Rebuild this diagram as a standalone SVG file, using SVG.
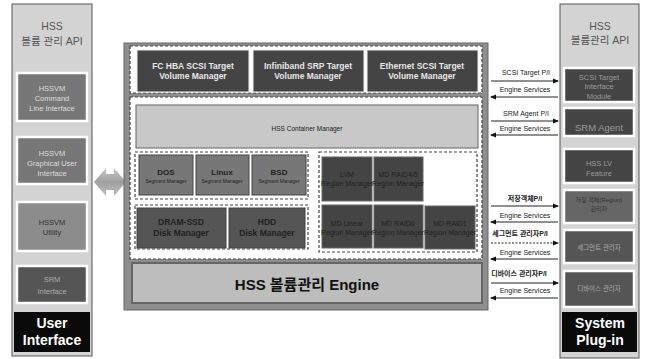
<svg xmlns="http://www.w3.org/2000/svg" width="649" height="359" viewBox="0 0 649 359">
<style>
text{font-family:"Liberation Sans","Noto Sans CJK KR",sans-serif;text-anchor:middle;dominant-baseline:central}
.panel{fill:#d3d3d3;stroke:#555;stroke-width:1}
.wb{stroke:#fff;stroke-width:2.5}
.lt{font-size:7.5px;fill:#ddd}
.pt{font-size:7.5px;fill:#999}
.hdr{font-size:10.5px;fill:#555}
.big{font-size:14px;font-weight:bold;fill:#fff}
.dash{fill:#fff;stroke:#444;stroke-width:1.2;stroke-dasharray:3 2}
.tv{fill:#444;stroke:#eee;stroke-width:1}
.tvt{font-size:8.5px;font-weight:bold;fill:#e6e6e6}
.seg{fill:#777;stroke:#444;stroke-width:1}
.segt{font-size:8px;font-weight:bold;fill:#222}
.segs{font-size:5px;fill:#222}
.rg{fill:#444;stroke:#666;stroke-width:1}
.rgt{font-size:7px;fill:#222}
.al{font-size:7px;fill:#222}
.ak{font-size:7px;font-weight:bold;fill:#222}
.arr{stroke:#222;stroke-width:1;fill:none}
</style>
<defs>
<marker id="ah" markerWidth="6" markerHeight="6" refX="5" refY="3" orient="auto" markerUnits="userSpaceOnUse">
<path d="M0,0.5 L6,3 L0,5.5 Z" fill="#111"/>
</marker>
<linearGradient id="dg" x1="0" y1="0" x2="0" y2="1">
<stop offset="0" stop-color="#c8c8c8"/><stop offset="0.5" stop-color="#a0a0a0"/><stop offset="1" stop-color="#c0c0c0"/>
</linearGradient>
</defs>
<rect width="649" height="359" fill="#fff"/>

<!-- Left panel -->
<g id="left-panel">
<rect class="panel" x="12" y="4" width="80" height="352"/>
<text class="hdr" x="52" y="26">HSS</text>
<text class="hdr" x="52" y="41">볼륨 관리 API</text>
</g>
<g id="cli">
<rect class="wb" x="17" y="73" width="70" height="48" fill="#777"/>
<text class="lt" x="52" y="88">HSSVM</text>
<text class="lt" x="52" y="98">Command</text>
<text class="lt" x="52" y="108">Line Interface</text>
</g>
<g id="gui">
<rect class="wb" x="17" y="137" width="70" height="47" fill="#777"/>
<text class="lt" x="52" y="153">HSSVM</text>
<text class="lt" x="52" y="163">Graphical User</text>
<text class="lt" x="52" y="173">Interface</text>
</g>
<g id="utility">
<rect class="wb" x="17" y="202" width="70" height="49" fill="#8c8c8c"/>
<text class="lt" x="52" y="222" style="fill:#333">HSSVM</text>
<text class="lt" x="52" y="232" style="fill:#333">Utility</text>
</g>
<g id="srm-if">
<rect class="wb" x="17" y="266" width="70" height="37" fill="#555"/>
<text class="lt" x="52" y="279" style="fill:#aaa">SRM</text>
<text class="lt" x="52" y="291" style="fill:#aaa">Interface</text>
</g>
<g id="user-interface">
<rect x="14" y="312" width="76" height="40" fill="#0a0a0a"/>
<text class="big" x="52" y="323">User</text>
<text class="big" x="52" y="340">Interface</text>
</g>

<!-- double arrow -->
<g id="ui-link">
<path d="M94,182 L106,168 L106,174 L114,174 L114,168 L126,182 L114,196 L114,190 L106,190 L106,196 Z" fill="url(#dg)"/>
</g>

<!-- Center frame -->
<g id="engine-frame">
<rect x="124" y="43" width="364" height="267" fill="#8e8e8e" stroke="#666" stroke-width="1"/>
<rect class="dash" x="130" y="46" width="352" height="47"/>
<rect class="dash" x="130" y="97" width="352" height="162"/>
</g>
<g id="fc-hba">
<rect class="tv" x="137" y="50" width="112" height="42"/>
<text class="tvt" x="193" y="66">FC HBA  SCSI Target</text>
<text class="tvt" x="193" y="76">Volume Manager</text>
</g>
<g id="infiniband">
<rect class="tv" x="253" y="50" width="111" height="42"/>
<text class="tvt" x="308" y="66">Infiniband  SRP Target</text>
<text class="tvt" x="308" y="76">Volume Manager</text>
</g>
<g id="ethernet">
<rect class="tv" x="367" y="50" width="111" height="42"/>
<text class="tvt" x="422" y="66">Ethernet SCSI Target</text>
<text class="tvt" x="422" y="76">Volume Manager</text>
</g>
<g id="container-manager">
<rect x="136" y="105" width="342" height="43" fill="#c8c8c8" stroke="#777" stroke-width="1.2"/>
<text x="307" y="128" style="font-size:6.5px;fill:#222">HSS Container Manager</text>
</g>
<g id="segment-group">
<rect class="dash" x="135" y="152" width="173" height="47"/>
</g>
<g id="dos">
<rect class="seg" x="139" y="155" width="54" height="40"/>
<text class="segt" x="166" y="172">DOS</text>
<text class="segs" x="166" y="181">Segment Manager</text>
</g>
<g id="linux">
<rect class="seg" x="196" y="155" width="53" height="40"/>
<text class="segt" x="222" y="172">Linux</text>
<text class="segs" x="222" y="181">Segment Manager</text>
</g>
<g id="bsd">
<rect class="seg" x="252" y="155" width="54" height="40"/>
<text class="segt" x="279" y="172">BSD</text>
<text class="segs" x="279" y="181">Segment Manager</text>
</g>
<g id="disk-group">
<rect class="dash" x="135" y="205" width="173" height="44"/>
</g>
<g id="dram-ssd">
<rect x="137" y="208" width="89" height="40" fill="#555" stroke="#444"/>
<text class="segt" x="181" y="222" style="font-size:8.5px">DRAM-SSD</text>
<text class="segt" x="181" y="233" style="font-size:8.5px">Disk Manager</text>
</g>
<g id="hdd">
<rect x="229" y="208" width="76" height="40" fill="#555" stroke="#444"/>
<text class="segt" x="267" y="222" style="font-size:8.5px">HDD</text>
<text class="segt" x="267" y="233" style="font-size:8.5px">Disk Manager</text>
</g>
<g id="region-group">
<rect class="dash" x="319" y="152" width="158" height="100"/>
</g>
<g id="lvm">
<rect class="rg" x="322" y="157" width="50" height="44"/>
<text class="rgt" x="347" y="174">LVM</text>
<text class="rgt" x="347" y="183">Region Manager</text>
</g>
<g id="raid45">
<rect class="rg" x="374" y="157" width="49" height="44"/>
<text class="rgt" x="398" y="174">MD RAID4/5</text>
<text class="rgt" x="398" y="183">Region Manager</text>
</g>
<g id="md-linear">
<rect class="rg" x="322" y="205" width="50" height="43"/>
<text class="rgt" x="347" y="223">MD Linear</text>
<text class="rgt" x="347" y="232">Region Manager</text>
</g>
<g id="raid0">
<rect class="rg" x="374" y="205" width="49" height="43"/>
<text class="rgt" x="398" y="223">MD RAID0</text>
<text class="rgt" x="398" y="232">Region Manager</text>
</g>
<g id="raid1">
<rect class="rg" x="425" y="206" width="50" height="43"/>
<text class="rgt" x="450" y="223">MD RAID1</text>
<text class="rgt" x="450" y="232">Region Manager</text>
</g>
<g id="engine">
<rect x="132" y="263" width="350" height="40" fill="#bdbdbd" stroke="#666" stroke-width="2"/>
<text x="307" y="284" style="font-size:15px;font-weight:bold;fill:#111">HSS 볼륨관리 Engine</text>
</g>

<!-- Right panel -->
<g id="right-panel">
<rect class="panel" x="560" y="4" width="79" height="354"/>
<text class="hdr" x="600" y="26">HSS</text>
<text class="hdr" x="600" y="40">볼륨관리 API</text>
</g>
<g id="scsi-module">
<rect class="wb" x="564" y="68" width="70" height="34" fill="#444"/>
<text class="pt" x="599" y="77">SCSI Target</text>
<text class="pt" x="599" y="86">Interface</text>
<text class="pt" x="599" y="96">Module</text>
</g>
<g id="srm-agent">
<rect class="wb" x="564" y="108" width="70" height="28" fill="#444"/>
<text class="pt" x="599" y="127" style="font-size:9.5px">SRM Agent</text>
</g>
<g id="hss-lv">
<rect class="wb" x="564" y="149" width="70" height="34" fill="#444"/>
<text class="pt" x="599" y="163">HSS LV</text>
<text class="pt" x="599" y="173">Feature</text>
</g>
<g id="region-mgr">
<rect class="wb" x="564" y="190" width="70" height="33" fill="#666"/>
<text class="pt" x="599" y="200" style="font-size:6px;fill:#333">저장 객체(Region)</text>
<text class="pt" x="599" y="209" style="font-size:6px;fill:#333">관리자</text>
</g>
<g id="segment-mgr">
<rect class="wb" x="564" y="230" width="70" height="33" fill="#555"/>
<text class="pt" x="599" y="247" style="font-size:6.5px;fill:#aaa">세그먼트 관리자</text>
</g>
<g id="device-mgr">
<rect class="wb" x="564" y="271" width="70" height="36" fill="#555"/>
<text class="pt" x="599" y="288" style="font-size:6.5px;fill:#aaa">디바이스 관리자</text>
</g>
<g id="system-plugin">
<rect x="562" y="312" width="75" height="40" fill="#0a0a0a"/>
<text class="big" x="600" y="323">System</text>
<text class="big" x="600" y="340">Plug-in</text>
</g>

<!-- Connectors -->
<g id="connectors">
<text class="al" x="526" y="72">SCSI Target P/I</text>
<line class="arr" x1="491" y1="81" x2="558" y2="81" marker-end="url(#ah)"/>
<text class="al" x="525" y="89">Engine Services</text>
<line class="arr" x1="558" y1="97" x2="491" y2="97" marker-end="url(#ah)"/>

<text class="al" x="526" y="113">SRM Agent P/I</text>
<line class="arr" x1="491" y1="121" x2="558" y2="121" marker-end="url(#ah)"/>
<text class="al" x="525" y="128">Engine Services</text>
<line class="arr" x1="558" y1="135" x2="491" y2="135" marker-end="url(#ah)"/>

<text class="ak" x="525" y="198">저장객체P/I</text>
<line class="arr" x1="491" y1="206" x2="558" y2="206" marker-end="url(#ah)"/>
<text class="al" x="525" y="215">Engine Services</text>
<line class="arr" x1="558" y1="222" x2="491" y2="222" marker-end="url(#ah)"/>

<text class="ak" x="520" y="233">세그먼트 관리자P/I</text>
<line class="arr" x1="491" y1="243" x2="558" y2="243" marker-end="url(#ah)" stroke-dasharray="2 1.5"/>
<text class="al" x="525" y="252">Engine Services</text>
<line class="arr" x1="558" y1="259" x2="491" y2="259" marker-end="url(#ah)"/>

<text class="ak" x="519" y="273">디바이스 관리자P/I</text>
<line class="arr" x1="491" y1="283" x2="558" y2="283" marker-end="url(#ah)"/>
<text class="al" x="525" y="290">Engine Services</text>
<line class="arr" x1="558" y1="298" x2="491" y2="298" marker-end="url(#ah)"/>
</g>
</svg>
